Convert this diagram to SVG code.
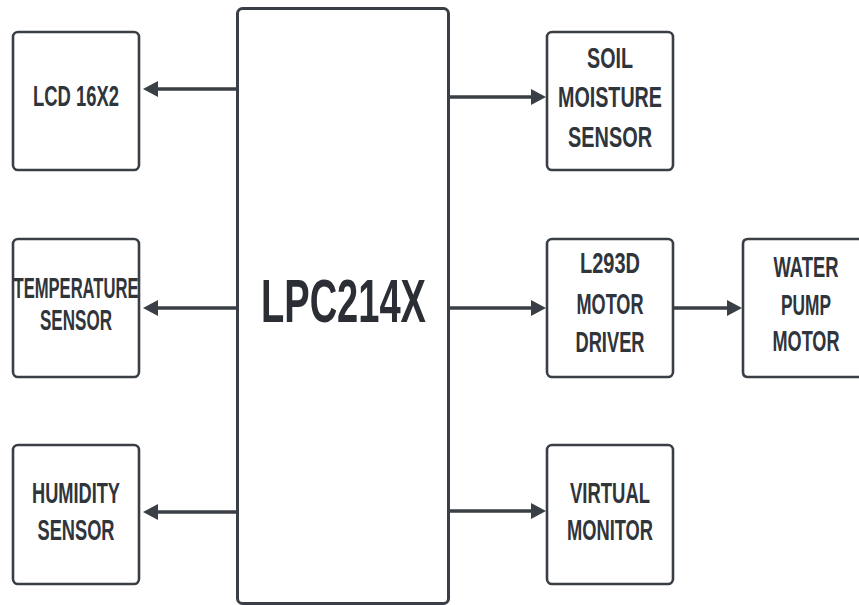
<svg xmlns="http://www.w3.org/2000/svg" width="859" height="605" viewBox="0 0 859 605">
<style>
.box{fill:#ffffff;stroke:#3a3e45;stroke-width:2.6}
.main{fill:#ffffff;stroke:#3a3e45;stroke-width:3}
.t{font-family:"Liberation Sans",Arial,sans-serif;font-weight:bold;font-size:29px;fill:#30343b;text-anchor:middle}
.big{font-family:"Liberation Sans",Arial,sans-serif;font-weight:bold;font-size:61px;fill:#2b2f35;text-anchor:middle}
.c{fill:none;stroke:#3a3e45;stroke-width:3.5}
</style>
<defs>
<marker id="ah" markerUnits="userSpaceOnUse" markerWidth="16" markerHeight="16" refX="1" refY="8" orient="auto">
<path d="M0,0 L15,8 L0,16 z" fill="#3a3e45"/>
</marker>
</defs>
<rect x="0" y="0" width="859" height="605" fill="#ffffff"/>
<g id="connectors">
<path class="c" d="M237,89 H157" marker-end="url(#ah)"/>
<path class="c" d="M237,308 H157" marker-end="url(#ah)"/>
<path class="c" d="M237,512 H157" marker-end="url(#ah)"/>
<path class="c" d="M448,97 H532" marker-end="url(#ah)"/>
<path class="c" d="M448,308 H532" marker-end="url(#ah)"/>
<path class="c" d="M448,511 H532" marker-end="url(#ah)"/>
<path class="c" d="M673,308 H728" marker-end="url(#ah)"/>
</g>
<g id="lpc">
<rect class="main" x="237.5" y="8.5" width="211" height="595" rx="5"/>
<text class="big" x="343.5" y="322" textLength="165" lengthAdjust="spacingAndGlyphs">LPC214X</text>
</g>
<g id="lcd">
<rect class="box" x="13" y="32" width="126" height="138" rx="5"/>
<text class="t" x="76" y="106" textLength="86" lengthAdjust="spacingAndGlyphs">LCD 16X2</text>
</g>
<g id="temperature">
<rect class="box" x="13" y="239" width="126" height="138" rx="5"/>
<text class="t" x="76" y="298" textLength="125" lengthAdjust="spacingAndGlyphs">TEMPERATURE</text>
<text class="t" x="76" y="330" textLength="72" lengthAdjust="spacingAndGlyphs">SENSOR</text>
</g>
<g id="humidity">
<rect class="box" x="13" y="445" width="126" height="139" rx="5"/>
<text class="t" x="76" y="503" textLength="88" lengthAdjust="spacingAndGlyphs">HUMIDITY</text>
<text class="t" x="76" y="540" textLength="77" lengthAdjust="spacingAndGlyphs">SENSOR</text>
</g>
<g id="soil">
<rect class="box" x="547" y="32" width="126" height="138" rx="5"/>
<text class="t" x="610" y="68" textLength="46" lengthAdjust="spacingAndGlyphs">SOIL</text>
<text class="t" x="610" y="107" textLength="104" lengthAdjust="spacingAndGlyphs">MOISTURE</text>
<text class="t" x="610" y="147" textLength="84" lengthAdjust="spacingAndGlyphs">SENSOR</text>
</g>
<g id="l293d">
<rect class="box" x="547" y="239" width="126" height="138" rx="5"/>
<text class="t" x="610" y="273" textLength="60" lengthAdjust="spacingAndGlyphs">L293D</text>
<text class="t" x="610" y="314" textLength="67" lengthAdjust="spacingAndGlyphs">MOTOR</text>
<text class="t" x="610" y="352" textLength="69" lengthAdjust="spacingAndGlyphs">DRIVER</text>
</g>
<g id="pump">
<path class="box" d="M859,239 H748 Q743,239 743,244 V372 Q743,377 748,377 H859"/>
<text class="t" x="806" y="277" textLength="65" lengthAdjust="spacingAndGlyphs">WATER</text>
<text class="t" x="806" y="315" textLength="50" lengthAdjust="spacingAndGlyphs">PUMP</text>
<text class="t" x="806" y="351" textLength="67" lengthAdjust="spacingAndGlyphs">MOTOR</text>
</g>
<g id="virtual">
<rect class="box" x="547" y="445" width="126" height="139" rx="5"/>
<text class="t" x="610" y="503" textLength="80" lengthAdjust="spacingAndGlyphs">VIRTUAL</text>
<text class="t" x="610" y="540" textLength="86" lengthAdjust="spacingAndGlyphs">MONITOR</text>
</g>
</svg>
